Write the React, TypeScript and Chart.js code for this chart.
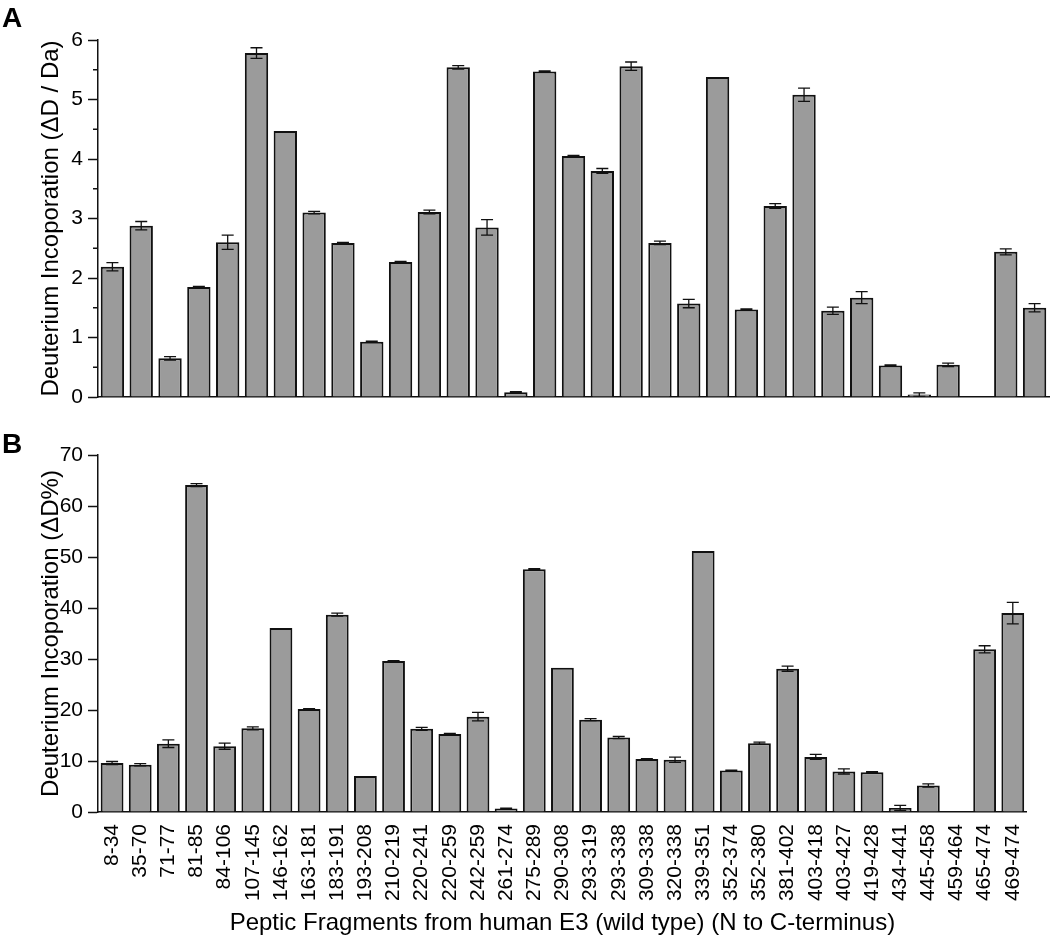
import React, { useEffect, useRef } from 'react';
import { Chart, registerables } from 'chart.js';

Chart.register(...registerables);

// ---------- data ----------
const fragments = [
  '8-34', '35-70', '71-77', '81-85', '84-106', '107-145', '146-162', '163-181', '183-191',
  '193-208', '210-219', '220-241', '220-259', '242-259', '261-274', '275-289', '290-308',
  '293-319', '293-338', '309-338', '320-338', '339-351', '352-374', '352-380', '381-402',
  '403-418', '403-427', '419-428', '434-441', '445-458', '459-464', '465-474', '469-474',
];

const deltaDa = [
  2.19, 2.88, 0.65, 1.85, 2.6, 5.78, 4.47, 3.1, 2.59,
  0.93, 2.27, 3.11, 5.54, 2.85, 0.08, 5.47, 4.05,
  3.8, 5.56, 2.59, 1.57, 5.38, 1.47, 3.21, 5.08,
  1.45, 1.67, 0.53, 0.04, 0.54, null, 2.44, 1.5,
];
const deltaDaErr = [
  0.07, 0.07, 0.03, 0.01, 0.12, 0.09, 0, 0.02, 0.01,
  0.01, 0.01, 0.03, 0.03, 0.13, 0.01, 0.01, 0.01,
  0.04, 0.07, 0.03, 0.07, 0, 0.01, 0.04, 0.11,
  0.06, 0.1, 0.01, 0.03, 0.03, null, 0.05, 0.07,
];

const deltaPct = [
  9.6, 9.27, 13.4, 64.1, 12.9, 16.4, 36.1, 20.2, 38.7,
  7.05, 29.6, 16.3, 15.3, 18.7, 0.7, 47.6, 28.3,
  18.1, 14.6, 10.4, 10.25, 51.2, 8.15, 13.5, 28.1,
  10.8, 7.95, 7.8, 0.8, 5.2, null, 31.9, 39.0,
];
const deltaPctErr = [
  0.3, 0.2, 0.75, 0.3, 0.6, 0.3, 0, 0.05, 0.3,
  0, 0.1, 0.3, 0.1, 0.85, 0.05, 0.1, 0,
  0.2, 0.2, 0.05, 0.5, 0, 0.05, 0.2, 0.5,
  0.5, 0.5, 0.1, 0.5, 0.3, null, 0.7, 2.1,
];

const minorTicksA = [0.5, 1.5, 2.5, 3.5, 4.5, 5.5];

const titleA = 'Deuterium Incoporation (\u0394D / Da)';
const titleB = 'Deuterium Incoporation (\u0394D%)';
const titleX = 'Peptic Fragments from human E3 (wild type) (N to C-terminus)';

// ---------- styles ----------
const FONT = "'Liberation Sans', Arial, Helvetica, sans-serif";
const BAR_FILL = '#9b9b9b';
const INK = '#111111';

// ---------- plugins ----------
const errorBarPlugin = {
  id: 'errorBars',
  afterDatasetsDraw(chart: any, _args: any, opts: any) {
    const errs = opts.errors || [];
    const meta = chart.getDatasetMeta(0);
    const yScale = chart.scales.y;
    const vals = chart.data.datasets[0].data;
    const ctx = chart.ctx;
    ctx.save();
    ctx.strokeStyle = INK;
    ctx.lineWidth = 1.3;
    meta.data.forEach((bar: any, i: number) => {
      const v = vals[i];
      const e = errs[i];
      if (v == null || !e) return;
      const x = bar.x;
      const yt = yScale.getPixelForValue(v + e);
      const yb = yScale.getPixelForValue(Math.max(v - e, 0));
      const hw = 6;
      ctx.beginPath();
      ctx.moveTo(x, yt);
      ctx.lineTo(x, yb);
      ctx.moveTo(x - hw, yt);
      ctx.lineTo(x + hw, yt);
      ctx.moveTo(x - hw, yb);
      ctx.lineTo(x + hw, yb);
      ctx.stroke();
    });
    ctx.restore();
  },
};

const panelLetterPlugin = {
  id: 'panelLetter',
  afterDraw(chart: any, _args: any, opts: any) {
    if (!opts.text) return;
    const ctx = chart.ctx;
    ctx.save();
    ctx.fillStyle = '#000';
    ctx.font = `bold 28px ${FONT}`;
    ctx.textBaseline = 'alphabetic';
    ctx.textAlign = 'left';
    ctx.fillText(opts.text, opts.x, opts.y);
    ctx.restore();
  },
};

const minorTickPlugin = {
  id: 'minorTicks',
  afterDraw(chart: any, _args: any, opts: any) {
    const values = opts.values || [];
    if (!values.length) return;
    const yScale = chart.scales.y;
    const ctx = chart.ctx;
    const x0 = chart.chartArea.left;
    ctx.save();
    ctx.strokeStyle = INK;
    ctx.lineWidth = 1.5;
    values.forEach((v: number) => {
      const y = yScale.getPixelForValue(v);
      ctx.beginPath();
      ctx.moveTo(x0 - 5, y);
      ctx.lineTo(x0, y);
      ctx.stroke();
    });
    ctx.restore();
  },
};

function makeConfig(opts: {
  values: (number | null)[];
  errors: (number | null)[];
  yMax: number;
  yStep: number;
  yTitle: string;
  letter: string;
  letterY: number;
  topPad: number;
  xHeight: number;
  showX: boolean;
  minor: number[];
}) {
  return {
    type: 'bar' as const,
    data: {
      labels: fragments,
      datasets: [
        {
          data: opts.values,
          backgroundColor: BAR_FILL,
          borderColor: INK,
          borderWidth: 2,
          barPercentage: 0.81,
          categoryPercentage: 1,
        },
      ],
    },
    options: {
      responsive: false,
      animation: false as const,
      devicePixelRatio: 1,
      layout: { padding: { top: opts.topPad, right: 1, left: 0, bottom: 0 } },
      plugins: {
        legend: { display: false },
        tooltip: { enabled: false },
        title: { display: false },
        errorBars: { errors: opts.errors },
        panelLetter: { text: opts.letter, x: 2, y: opts.letterY },
        minorTicks: { values: opts.minor },
      },
      scales: {
        x: {
          type: 'category' as const,
          offset: true,
          grid: { display: false, drawTicks: false },
          border: { display: true, color: INK, width: 1.5 },
          ticks: {
            display: opts.showX,
            autoSkip: false,
            maxRotation: 90,
            minRotation: 90,
            padding: 12,
            color: '#000',
            font: { family: FONT, size: 21 },
          },
          title: {
            display: opts.showX,
            text: titleX,
            color: '#000',
            font: { family: FONT, size: 24 },
            padding: { top: 0, bottom: 1 },
          },
          afterFit: (s: any) => {
            s.height = opts.xHeight;
          },
        },
        y: {
          min: 0,
          max: opts.yMax,
          ticks: {
            stepSize: opts.yStep,
            color: '#000',
            padding: 5,
            font: { family: FONT, size: 21 },
            callback: (v: any) => (!opts.minor.includes(Number(v)) ? String(v) : ''),
          },
          grid: {
            display: true,
            drawOnChartArea: false,
            drawTicks: true,
            tickLength: 10,
            tickWidth: 1.5,
            tickColor: (ctx: any) =>
              ctx.tick && opts.minor.includes(ctx.tick.value) ? 'rgba(0,0,0,0)' : INK,
          },
          border: { display: true, color: INK, width: 1.5 },
          title: {
            display: true,
            text: opts.yTitle,
            color: '#000',
            font: { family: FONT, size: 24 },
            padding: { top: 37, bottom: 0 },
          },
          afterFit: (s: any) => {
            s.width = 98;
          },
        },
      },
    },
    plugins: [errorBarPlugin, panelLetterPlugin, minorTickPlugin],
  };
}

function BarPanel(props: { width: number; height: number; config: any }) {
  const ref = useRef<HTMLCanvasElement | null>(null);
  useEffect(() => {
    if (!ref.current) return;
    const chart = new Chart(ref.current, props.config);
    return () => chart.destroy();
  }, []);
  return (
    <canvas
      ref={ref}
      width={props.width}
      height={props.height}
      style={{ display: 'block', width: props.width, height: props.height }}
    />
  );
}

export default function App() {
  const configA = makeConfig({
    values: deltaDa,
    errors: deltaDaErr,
    yMax: 6,
    yStep: 0.5,
    yTitle: titleA,
    letter: 'A',
    letterY: 27,
    topPad: 40,
    xHeight: 23,
    showX: false,
    minor: minorTicksA,
  });
  const configB = makeConfig({
    values: deltaPct,
    errors: deltaPctErr,
    yMax: 70,
    yStep: 10,
    yTitle: titleB,
    letter: 'B',
    letterY: 33,
    topPad: 35,
    xHeight: 127,
    showX: true,
    minor: [],
  });
  return (
    <div
      style={{
        position: 'absolute',
        left: 0,
        top: 0,
        width: 1050,
        height: 939,
        background: '#fff',
        overflow: 'hidden',
      }}
    >
      <BarPanel width={1050} height={420} config={configA} />
      <BarPanel width={1050} height={519} config={configB} />
    </div>
  );
}
